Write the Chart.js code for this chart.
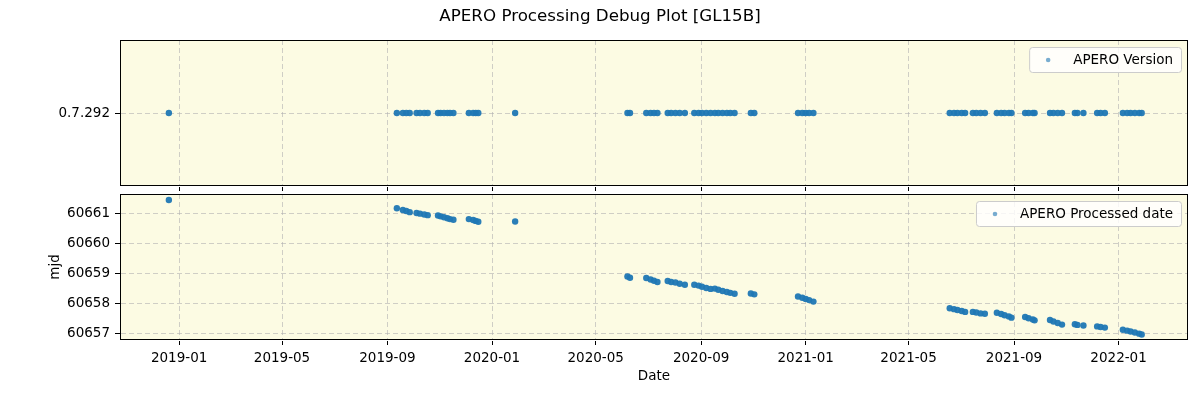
<!DOCTYPE html>
<html>
<head>
<meta charset="utf-8">
<script src="https://cdn.jsdelivr.net/npm/chart.js@4.4.0/dist/chart.umd.min.js"></script>
<style>
  body { margin: 0; background: #fff; }
  #wrap { position: relative; width: 1200px; height: 400px; font-family: 'DejaVu Sans', sans-serif; }
  #title { position: absolute; left: 0; top: 4px; width: 1200px; text-align: center; font-size: 16.7px; line-height: 22px; color: #000; }
  #topChart { position: absolute; left: 0; top: 0; }
  #botChart { position: absolute; left: 0; top: 190px; }
</style>
</head>
<body>
<div id="wrap">
  <canvas id="topChart" width="1200" height="191"></canvas>
  <canvas id="botChart" width="1200" height="210"></canvas>
  <div id="title">APERO Processing Debug Plot [GL15B]</div>
</div>
<script>
// observation dates (one per processed file)
const procDates = [
  '2018-12-20',
  '2019-09-12',
  '2019-09-19', '2019-09-23', '2019-09-27',
  '2019-10-05', '2019-10-09', '2019-10-14', '2019-10-18',
  '2019-10-30', '2019-11-02', '2019-11-06', '2019-11-10', '2019-11-13', '2019-11-17',
  '2019-12-05', '2019-12-10', '2019-12-13', '2019-12-16',
  '2020-01-28',
  '2020-06-07', '2020-06-10',
  '2020-06-29', '2020-07-04', '2020-07-08', '2020-07-12',
  '2020-07-24', '2020-07-28', '2020-08-02', '2020-08-07', '2020-08-13',
  '2020-08-24', '2020-08-29', '2020-09-02', '2020-09-07', '2020-09-12',
  '2020-09-17', '2020-09-21', '2020-09-26', '2020-10-01', '2020-10-05', '2020-10-10',
  '2020-10-29', '2020-11-02',
  '2020-12-23', '2020-12-28', '2021-01-01', '2021-01-05', '2021-01-10',
  '2021-06-18', '2021-06-23', '2021-06-27', '2021-07-02', '2021-07-06',
  '2021-07-15', '2021-07-19', '2021-07-24', '2021-07-29',
  '2021-08-12', '2021-08-17', '2021-08-21', '2021-08-26', '2021-08-29',
  '2021-09-14', '2021-09-18', '2021-09-23', '2021-09-25',
  '2021-10-13', '2021-10-17', '2021-10-22', '2021-10-27',
  '2021-11-11', '2021-11-14', '2021-11-21',
  '2021-12-07', '2021-12-11', '2021-12-16',
  '2022-01-06', '2022-01-11', '2022-01-15', '2022-01-20', '2022-01-25', '2022-01-28'
];

const procMjd = [
  60661.43,
  60661.16,
  60661.10, 60661.07, 60661.03,
  60661.00, 60660.98, 60660.95, 60660.93,
  60660.92, 60660.89, 60660.86, 60660.83, 60660.80, 60660.78,
  60660.80, 60660.77, 60660.74, 60660.71,
  60660.72,
  60658.90, 60658.86,
  60658.85, 60658.80, 60658.76, 60658.72,
  60658.75, 60658.72, 60658.70, 60658.66, 60658.63,
  60658.63, 60658.60, 60658.56, 60658.52, 60658.49,
  60658.50, 60658.46, 60658.42, 60658.39, 60658.36, 60658.33,
  60658.34, 60658.31,
  60658.24, 60658.20, 60658.16, 60658.12, 60658.07,
  60657.85, 60657.82, 60657.79, 60657.76, 60657.73,
  60657.73, 60657.71, 60657.68, 60657.67,
  60657.70, 60657.66, 60657.62, 60657.58, 60657.54,
  60657.56, 60657.52, 60657.48, 60657.45,
  60657.46, 60657.41, 60657.36, 60657.31,
  60657.32, 60657.30, 60657.28,
  60657.25, 60657.23, 60657.21,
  60657.14, 60657.11, 60657.08, 60657.05, 60657.01, 60656.98
];

const apeVersions = [
  '0.7.292',
  '0.7.292',
  '0.7.292', '0.7.292', '0.7.292',
  '0.7.292', '0.7.292', '0.7.292', '0.7.292',
  '0.7.292', '0.7.292', '0.7.292', '0.7.292', '0.7.292', '0.7.292',
  '0.7.292', '0.7.292', '0.7.292', '0.7.292',
  '0.7.292',
  '0.7.292', '0.7.292',
  '0.7.292', '0.7.292', '0.7.292', '0.7.292',
  '0.7.292', '0.7.292', '0.7.292', '0.7.292', '0.7.292',
  '0.7.292', '0.7.292', '0.7.292', '0.7.292', '0.7.292',
  '0.7.292', '0.7.292', '0.7.292', '0.7.292', '0.7.292', '0.7.292',
  '0.7.292', '0.7.292',
  '0.7.292', '0.7.292', '0.7.292', '0.7.292', '0.7.292',
  '0.7.292', '0.7.292', '0.7.292', '0.7.292', '0.7.292',
  '0.7.292', '0.7.292', '0.7.292', '0.7.292',
  '0.7.292', '0.7.292', '0.7.292', '0.7.292', '0.7.292',
  '0.7.292', '0.7.292', '0.7.292', '0.7.292',
  '0.7.292', '0.7.292', '0.7.292', '0.7.292',
  '0.7.292', '0.7.292', '0.7.292',
  '0.7.292', '0.7.292', '0.7.292',
  '0.7.292', '0.7.292', '0.7.292', '0.7.292', '0.7.292', '0.7.292'
];

const versionTicks = ['0.7.292'];
const dateTicks = ['2019-01', '2019-05', '2019-09', '2020-01', '2020-05', '2020-09',
                   '2021-01', '2021-05', '2021-09', '2022-01'];
const mjdTicks = [60657, 60658, 60659, 60660, 60661];

const toMs = s => { const p = s.split('-').map(Number); return Date.UTC(p[0], p[1] - 1, p[2] || 1); };
const xMin = toMs('2018-10-24');
const xMax = toMs('2022-03-23');

const FONT = 'DejaVu Sans';
const GRID = 'rgba(176,176,176,0.6)';
const BG = '#fcfbe3';
const DOT = 'rgba(31,119,180,0.95)';
const NOLINE = 'rgba(0,0,0,0)';

// axes background, full frame and matplotlib-like legend box
const framePlugin = {
  id: 'frame',
  beforeDraw(chart) {
    const a = chart.chartArea, c = chart.ctx;
    c.save();
    c.fillStyle = BG;
    c.fillRect(a.left, a.top, a.right - a.left, a.bottom - a.top);
    c.restore();
  },
  afterDraw(chart) {
    const a = chart.chartArea, c = chart.ctx;
    c.save();
    c.strokeStyle = '#000';
    c.lineWidth = 1;
    c.strokeRect(Math.round(a.left) + 0.5, Math.round(a.top) + 0.5,
                 Math.round(a.right - a.left) - 1, Math.round(a.bottom - a.top) - 1);

    const label = chart.data.datasets[0].label;
    c.font = '13.5px "' + FONT + '"';
    const tw = c.measureText(label).width;
    const w = 44 + tw + 8, h = 25;
    const x = a.right - 7 - w, y = a.top + 7;
    c.beginPath();
    c.roundRect(x + 0.5, y + 0.5, w, h, 3);
    c.fillStyle = 'rgba(255,255,255,0.8)';
    c.fill();
    c.strokeStyle = '#cccccc';
    c.stroke();
    c.beginPath();
    c.arc(x + 19, y + h / 2 + 0.5, 2.3, 0, Math.PI * 2);
    c.fillStyle = 'rgba(31,119,180,0.6)';
    c.fill();
    c.fillStyle = '#000';
    c.textBaseline = 'middle';
    c.fillText(label, x + 44, y + h / 2 + 1);
    c.restore();
  }
};

// keep the plot boxes exactly where the layout padding puts them
const fixY = ax => { ax.width = 120; ax.paddingTop = 0; ax.paddingBottom = 0; };

function xScale(showLabels) {
  return {
    type: 'linear',
    min: xMin,
    max: xMax,
    afterBuildTicks: ax => { ax.ticks = dateTicks.map(t => ({ value: toMs(t + '-01') })); },
    afterFit: ax => { ax.height = showLabels ? 60 : 5; ax.paddingLeft = 0; ax.paddingRight = 0; },
    ticks: {
      display: showLabels,
      autoSkip: false,
      maxRotation: 0,
      padding: 5,
      color: '#000',
      font: { family: FONT, size: 13.5 },
      callback: (v, i) => dateTicks[i]
    },
    grid: { color: GRID, tickColor: '#000', tickLength: 5 },
    border: { color: NOLINE, dash: [5, 3] },
    title: {
      display: showLabels,
      text: 'Date',
      color: '#000',
      font: { family: FONT, size: 13.5 },
      padding: { top: 0, bottom: 15 }
    }
  };
}

const common = {
  responsive: false,
  animation: false,
  events: [],
  plugins: { legend: { display: false }, tooltip: { enabled: false } }
};

new Chart(document.getElementById('topChart'), {
  type: 'scatter',
  data: {
    datasets: [{
      label: 'APERO Version',
      data: procDates.map((d, i) => ({ x: toMs(d), y: apeVersions[i] })),
      backgroundColor: DOT,
      borderWidth: 0,
      pointRadius: 3.2,
      pointHoverRadius: 3.2
    }]
  },
  options: {
    ...common,
    layout: { padding: { top: 40, right: 12, left: 0, bottom: 0 } },
    scales: {
      x: xScale(false),
      y: {
        type: 'category',
        labels: versionTicks,
        offset: true,
        afterFit: fixY,
        ticks: { color: '#000', padding: 5, font: { family: FONT, size: 13.5 } },
        grid: { color: GRID, tickColor: '#000', tickLength: 5 },
        border: { color: NOLINE, dash: [5, 3] }
      }
    }
  },
  plugins: [framePlugin]
});

new Chart(document.getElementById('botChart'), {
  type: 'scatter',
  data: {
    datasets: [{
      label: 'APERO Processed date',
      data: procDates.map((d, i) => ({ x: toMs(d), y: procMjd[i] })),
      backgroundColor: DOT,
      borderWidth: 0,
      pointRadius: 3.2,
      pointHoverRadius: 3.2
    }]
  },
  options: {
    ...common,
    layout: { padding: { top: 4, right: 12, left: 0, bottom: 0 } },
    scales: {
      x: xScale(true),
      y: {
        type: 'linear',
        min: 60656.8,
        max: 60661.63,
        afterBuildTicks: ax => { ax.ticks = mjdTicks.map(v => ({ value: v })); },
        afterFit: fixY,
        ticks: { color: '#000', padding: 5, font: { family: FONT, size: 13.5 }, callback: v => String(v) },
        grid: { color: GRID, tickColor: '#000', tickLength: 5 },
        border: { color: NOLINE, dash: [5, 3] },
        title: {
          display: true,
          text: 'mjd',
          color: '#000',
          font: { family: FONT, size: 13.5 },
          padding: { top: 47, bottom: 0 }
        }
      }
    }
  },
  plugins: [framePlugin]
});
</script>
</body>
</html>
